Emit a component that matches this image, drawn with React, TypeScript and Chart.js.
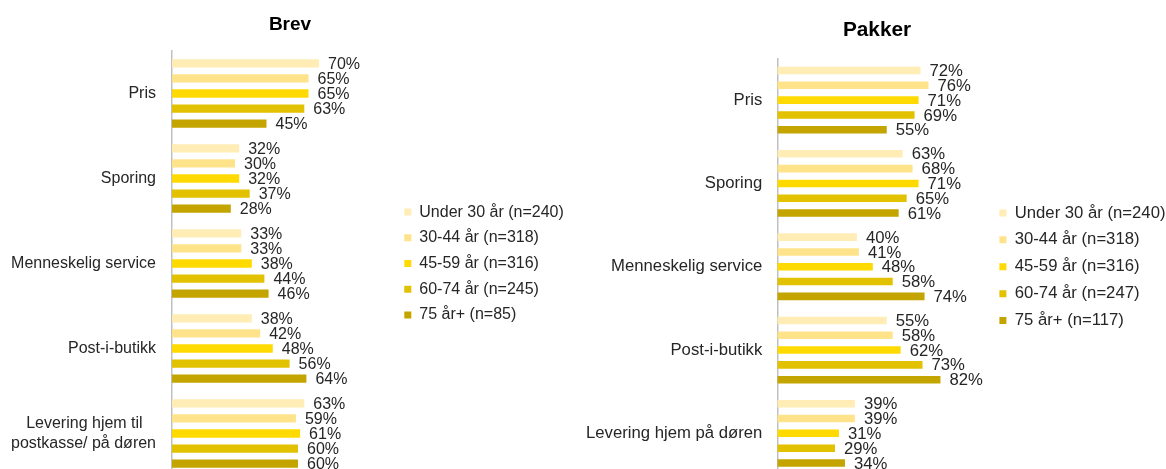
import React, { useEffect, useRef } from 'react';
import { Chart, registerables } from 'chart.js';

Chart.register(...registerables);

const FONT = "'Liberation Sans', Arial, Helvetica, sans-serif";

// ---------- data ----------
const brevCategories: (string | string[])[] = [
  'Pris',
  'Sporing',
  'Menneskelig service',
  'Post-i-butikk',
  ['Levering hjem til\u00A0\u00A0\u00A0', 'postkasse/ på døren'],
];
const pakkerCategories: string[] = [
  'Pris',
  'Sporing',
  'Menneskelig service',
  'Post-i-butikk',
  'Levering hjem på døren',
];

const brevSeriesLabels = [
  'Under 30 år (n=240)',
  '30-44 år (n=318)',
  '45-59 år (n=316)',
  '60-74 år (n=245)',
  '75 år+ (n=85)',
];
const pakkerSeriesLabels = [
  'Under 30 år (n=240)',
  '30-44 år (n=318)',
  '45-59 år (n=316)',
  '60-74 år (n=247)',
  '75 år+ (n=117)',
];

const brevUnder30 = [70, 32, 33, 38, 63];
const brev30to44 = [65, 30, 33, 42, 59];
const brev45to59 = [65, 32, 38, 48, 61];
const brev60to74 = [63, 37, 44, 56, 60];
const brev75plus = [45, 28, 46, 64, 60];

const pakkerUnder30 = [72, 63, 40, 55, 39];
const pakker30to44 = [76, 68, 41, 58, 39];
const pakker45to59 = [71, 71, 48, 62, 31];
const pakker60to74 = [69, 65, 58, 73, 29];
const pakker75plus = [55, 61, 74, 82, 34];

const seriesColors = ['#FFEDB5', '#FFE38B', '#FFDA00', '#E2C100', '#C4A500'];

// ---------- helpers ----------
const valueLabelsPlugin = (fontSize: number) => ({
  id: 'valueLabels',
  afterDatasetsDraw(chart: any) {
    const ctx = chart.ctx;
    ctx.save();
    ctx.font = `${fontSize}px ${FONT}`;
    ctx.fillStyle = '#262626';
    ctx.textAlign = 'left';
    ctx.textBaseline = 'middle';
    chart.data.datasets.forEach((ds: any, di: number) => {
      const meta = chart.getDatasetMeta(di);
      meta.data.forEach((el: any, i: number) => {
        ctx.fillText(`${ds.data[i]}%`, el.x + 9, el.y + 1);
      });
    });
    ctx.restore();
  },
});

// lets the right-hand legend keep its natural width
const legendWidthPlugin = (width: number) => ({
  id: 'legendWidth',
  beforeLayout(chart: any) {
    const lg = chart.legend;
    if (lg && !lg.__patched) {
      const orig = lg.fit;
      lg.fit = function () {
        orig.call(this);
        this.width = width;
      };
      lg.__patched = true;
    }
  },
});

type Cfg = {
  title: string;
  categories: any[];
  seriesLabels: string[];
  series: number[][];
  font: number;
  titleFont: number;
  titlePadTop: number;
  titlePadBottom: number;
  padLeft: number;
  padRight: number;
  padBottom: number;
  axisWidth: number;
  legendWidth: number;
  tickPadding: number;
  legendPadding: number;
  catPct: number;
  barPct: number;
  xMax: number;
};

function makeChart(canvas: HTMLCanvasElement, c: Cfg) {
  return new Chart(canvas, {
    type: 'bar',
    data: {
      labels: c.categories,
      datasets: c.series.map((d, i) => ({
        label: c.seriesLabels[i],
        data: d,
        backgroundColor: seriesColors[i],
        borderWidth: 0,
        categoryPercentage: c.catPct,
        barPercentage: c.barPct,
      })),
    },
    options: {
      indexAxis: 'y',
      responsive: false,
      animation: false,
      devicePixelRatio: 1,
      layout: {
        padding: { left: c.padLeft, right: c.padRight, top: 0, bottom: c.padBottom },
      },
      scales: {
        x: { display: false, min: 0, max: c.xMax },
        y: {
          afterFit: (s: any) => {
            s.width = c.axisWidth;
          },
          grid: { display: false, drawTicks: false },
          border: { display: true, color: '#c0c0c0', width: 1.5 },
          ticks: {
            padding: c.tickPadding,
            color: '#262626',
            autoSkip: false,
            font: { family: FONT, size: c.font },
          },
        },
      },
      plugins: {
        title: {
          display: true,
          text: c.title,
          color: '#000000',
          font: { family: FONT, size: c.titleFont, weight: 'bold' },
          padding: { top: c.titlePadTop, bottom: c.titlePadBottom },
        },
        legend: {
          position: 'right',
          align: 'center',
          fullSize: false,
          labels: {
            boxWidth: 7,
            boxHeight: 7,
            padding: c.legendPadding,
            color: '#262626',
            font: { family: FONT, size: c.font },
          },
        },
        tooltip: { enabled: false },
      },
    } as any,
    plugins: [legendWidthPlugin(c.legendWidth), valueLabelsPlugin(c.font)],
  });
}

export default function App() {
  const brevRef = useRef<HTMLCanvasElement>(null);
  const pakkerRef = useRef<HTMLCanvasElement>(null);

  useEffect(() => {
    const a = makeChart(brevRef.current!, {
      title: 'Brev',
      categories: brevCategories,
      seriesLabels: brevSeriesLabels,
      series: [brevUnder30, brev30to44, brev45to59, brev60to74, brev75plus],
      font: 16,
      titleFont: 19,
      titlePadTop: 13.5,
      titlePadBottom: 14.7,
      padLeft: 8.4,
      padRight: 8.4,
      padBottom: 36,
      axisWidth: 163.6,
      legendWidth: 177,
      tickPadding: 16,
      legendPadding: 9.7,
      catPct: 0.883,
      barPct: 0.55,
      xMax: 106,
    });
    const b = makeChart(pakkerRef.current!, {
      title: 'Pakker',
      categories: pakkerCategories,
      seriesLabels: pakkerSeriesLabels,
      series: [pakkerUnder30, pakker30to44, pakker45to59, pakker60to74, pakker75plus],
      font: 16.7,
      titleFont: 20.8,
      titlePadTop: 17.3,
      titlePadBottom: 16.2,
      padLeft: 3.8,
      padRight: 3.8,
      padBottom: 26,
      axisWidth: 193.5,
      legendWidth: 181,
      tickPadding: 15,
      legendPadding: 10.2,
      catPct: 0.889,
      barPct: 0.51,
      xMax: 106.5,
    });
    return () => {
      a.destroy();
      b.destroy();
    };
  }, []);

  return (
    <div
      style={{
        position: 'absolute',
        left: 0,
        top: 0,
        width: 1166,
        height: 469,
        overflow: 'hidden',
        background: '#ffffff',
      }}
    >
      <canvas
        ref={brevRef}
        width={580}
        height={512}
        style={{ position: 'absolute', left: 0, top: 0 }}
      />
      <canvas
        ref={pakkerRef}
        width={594}
        height={501}
        style={{ position: 'absolute', left: 580, top: 0 }}
      />
    </div>
  );
}
